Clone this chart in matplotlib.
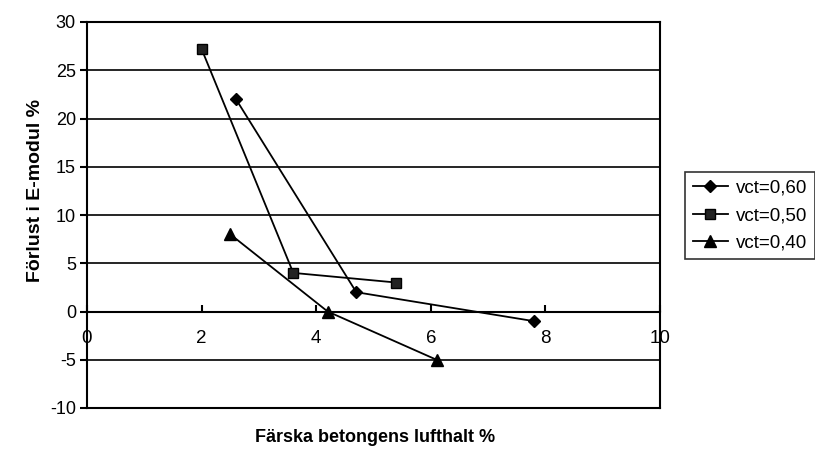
import matplotlib
matplotlib.use("Agg")
import matplotlib.pyplot as plt

plt.rcParams['font.family'] = ['Liberation Sans', 'DejaVu Sans']

x_060 = [2.6, 4.7, 7.8]
y_060 = [22, 2, -1]
x_050 = [2.0, 3.6, 5.4]
y_050 = [27.2, 4, 3]
x_040 = [2.5, 4.2, 6.1]
y_040 = [8, 0, -5]
labels = ['vct=0,60', 'vct=0,50', 'vct=0,40']
xticks = [0, 2, 4, 6, 8, 10]
yticks = [-10, -5, 0, 5, 10, 15, 20, 25, 30]

fig = plt.figure(figsize=(8.15, 4.51), dpi=100)
ax = fig.add_axes([87/815, 1-408/451, (660-87)/815, (408-22)/451])

ax.plot(x_060, y_060, color='black', lw=1.3, marker='D', ms=6, mfc='black', mec='black', label=labels[0], zorder=3)
ax.plot(x_050, y_050, color='black', lw=1.3, marker='s', ms=6.5, mfc='#222222', mec='black', label=labels[1], zorder=3)
ax.plot(x_040, y_040, color='black', lw=1.3, marker='^', ms=8, mfc='black', mec='black', label=labels[2], zorder=3)

ax.set_xlim(0, 10)
ax.set_ylim(-10, 30)
ax.set_xticks(xticks)
ax.set_yticks(yticks)
ax.set_xticklabels([str(v) for v in xticks])
ax.set_yticklabels([str(v) for v in yticks])
ax.yaxis.grid(True, color='black', lw=1.2)
ax.set_axisbelow(True)

ax.spines['bottom'].set_position(('data', 0))
ax.axhline(-10, color='black', lw=1.5, clip_on=False)
for s in ['left', 'right', 'bottom', 'top']:
    ax.spines[s].set_linewidth(1.5)
    ax.spines[s].set_color('black')

ax.tick_params(axis='x', direction='in', length=5, width=1.5, labelsize=13.5, pad=13)
ax.tick_params(axis='y', direction='out', length=5, width=1.5, labelsize=13, pad=3)

fig.text(36/815, 1-190/451, 'Förlust i E-modul %', rotation=90, ha='center', va='center',
         fontsize=14, fontweight='bold')
fig.text(375/815, 1-437/451, 'Färska betongens lufthalt %', ha='center', va='center',
         fontsize=13, fontweight='bold')

leg = ax.legend(loc='upper left', bbox_to_anchor=(685/815, 1-172/451), bbox_transform=fig.transFigure,
                frameon=True, fancybox=False, edgecolor='black', fontsize=13.5,
                handlelength=1.9, handletextpad=0.4, borderpad=0.4, labelspacing=0.55, borderaxespad=0)
leg.get_frame().set_linewidth(1.2)

fig.savefig('out.png', dpi=100, facecolor='white')
